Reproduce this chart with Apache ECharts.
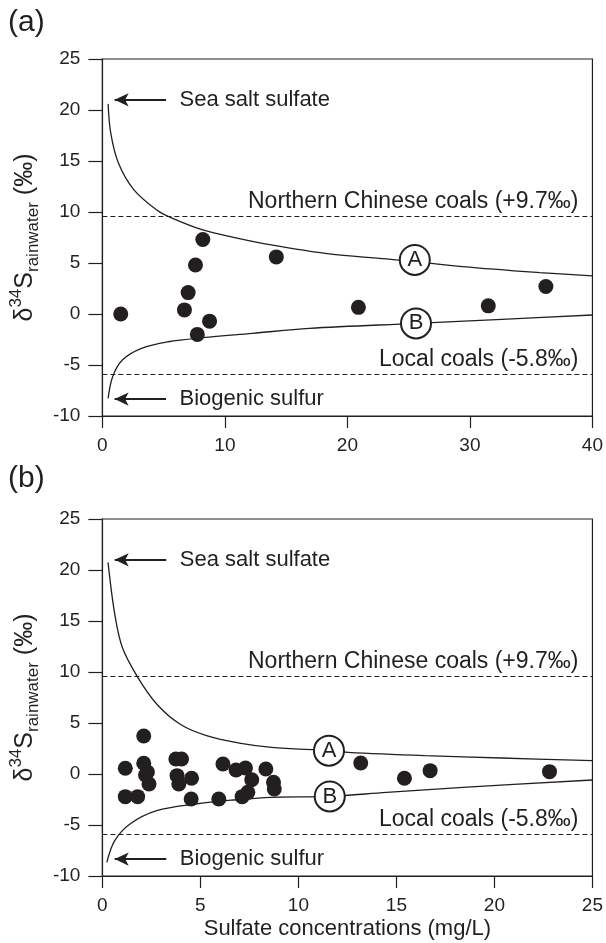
<!DOCTYPE html>
<html>
<head>
<meta charset="utf-8">
<script src="https://cdn.jsdelivr.net/npm/echarts@6/dist/echarts.min.js"></script>
<style>
  html, body { margin: 0; padding: 0; background: #fff; }
  #main { width: 606px; height: 943px; }
</style>
</head>
<body>
<div id="main"></div>
<script>
// (a) 数据点：硫酸盐浓度 (mg/L), δ34S (‰)
var ptsA = [
    [1.5, 0.0], [6.7, 0.4], [7.0, 2.1], [7.6, 4.8], [8.2, 7.3], [7.75, -2.0],
    [8.75, -0.7], [14.2, 5.6], [20.9, 0.65], [31.5, 0.8], [36.2, 2.7]
];
// (b) 数据点
var ptsB = [
    [1.17, 0.56], [1.17, -2.22], [1.8, -2.22], [2.11, 3.73], [2.11, 1.05],
    [2.3, 0.2], [2.2, -0.1], [2.38, -0.98], [3.75, 1.47], [4.04, 1.47],
    [3.81, -0.16], [3.9, -0.98], [4.55, -0.42], [4.53, -2.45], [5.94, -2.45],
    [6.15, 0.98], [6.82, 0.39], [7.3, 0.59], [7.62, -0.56], [7.13, -2.22],
    [7.42, -1.8], [8.34, 0.49], [8.73, -0.82], [8.77, -1.47], [13.18, 1.08],
    [15.41, -0.42], [16.72, 0.33], [22.81, 0.23]
];
// 混合曲线 A / B
var curveA1 = [
    [0.47, 20.6], [0.69, 17.7], [1.31, 14.8], [2.56, 12.2], [4.44, 10.2], [5.69, 9.4],
    [8.19, 8.24], [10.7, 7.52], [13.8, 6.77], [18.5, 5.89], [23.2, 5.4], [29.4, 4.65],
    [35.7, 4.06], [40, 3.73]
];
var curveB1 = [
    [0.47, -8.28], [0.84, -6.15], [1.63, -4.51], [3.19, -3.37], [5.38, -2.72],
    [8.19, -2.32], [12.25, -1.9], [16.9, -1.41], [25.6, -0.92], [32.6, -0.52], [40, -0.1]
];
var curveA2 = [
    [0.29, 20.75], [0.63, 15.7], [1.02, 12.4], [1.8, 9.5], [2.77, 6.86], [3.95, 4.9],
    [5.31, 3.76], [7.07, 3.0], [8.63, 2.61], [11.6, 2.29], [12.54, 2.12], [16.45, 1.8],
    [20.35, 1.57], [25, 1.31]
];
var curveB2 = [
    [0.23, -8.66], [0.63, -6.54], [1.41, -4.9], [2.77, -3.6], [4.73, -2.94],
    [6.68, -2.55], [8.63, -2.29], [11.6, -2.2], [14.5, -1.8], [18.4, -1.31], [25, -0.59]
];
var northCoal = 9.6, localCoal = -5.9;
var xTicksA = [0, 40, 10], xTicksB = [0, 25, 5], yTicks = [-10, 25, 5];

var ink = '#231f20';
var font = 'Liberation Sans';

var myChart = echarts.init(document.getElementById('main'));

function xAxisOf(idx, t, withName) {
    return {
        type: 'value', gridIndex: idx, min: t[0], max: t[1], interval: t[2],
        splitLine: {show: false},
        axisLine: {onZero: false, lineStyle: {color: ink, width: 1.2}},
        axisTick: {length: 12, lineStyle: {color: ink, width: 1.2}},
        axisLabel: {color: ink, fontSize: 19, fontFamily: font, margin: 20},
        name: withName ? 'Sulfate concentrations (mg/L)' : '',
        nameLocation: 'middle', nameGap: 42,
        nameTextStyle: {color: ink, fontSize: 22, fontFamily: font}
    };
}
function yAxisOf(idx) {
    return {
        type: 'value', gridIndex: idx, min: yTicks[0], max: yTicks[1], interval: yTicks[2],
        splitLine: {show: false},
        axisLine: {onZero: false, lineStyle: {color: ink, width: 1.2}},
        axisTick: {length: 14, lineStyle: {color: ink, width: 1.2}},
        axisLabel: {color: ink, fontSize: 19, fontFamily: font, margin: 22},
        name: '{m|δ}{sup|34}{m|S}{sub|rainwater}{m| (‰)}',
        nameLocation: 'middle', nameGap: 40,
        nameTextStyle: {
            color: ink, fontFamily: font,
            rich: {
                m: {fontSize: 25, fontFamily: font, color: ink, lineHeight: 34},
                sup: {fontSize: 17, fontFamily: font, color: ink, verticalAlign: 'top', lineHeight: 34},
                sub: {fontSize: 17, fontFamily: font, color: ink, verticalAlign: 'bottom', lineHeight: 34}
            }
        }
    };
}

// 每个子图的系列
function panelSeries(idx, pts, ca, cb, textX, arrowX, labA, labB) {
    var x0 = arrowX[0], x1 = arrowX[1];
    return [
        {
            type: 'line', xAxisIndex: idx, yAxisIndex: idx, data: ca,
            showSymbol: false, smooth: 0.35, silent: true,
            lineStyle: {color: ink, width: 1.3},
            markLine: {
                silent: true, symbol: 'none',
                lineStyle: {color: ink, width: 1.2, type: [5, 3]},
                label: {color: ink, fontSize: 23, fontFamily: font, position: 'insideEndTop', distance: [14, 3]},
                data: [
                    {yAxis: northCoal, label: {formatter: 'Northern Chinese coals (+9.7‰)'}},
                    {yAxis: localCoal, label: {formatter: 'Local coals (-5.8‰)'}}
                ]
            }
        },
        {
            type: 'line', xAxisIndex: idx, yAxisIndex: idx, data: cb,
            showSymbol: false, smooth: 0.35, silent: true,
            lineStyle: {color: ink, width: 1.3},
            markLine: {
                silent: true, symbol: ['arrow', 'none'], symbolSize: [10, 14],
                lineStyle: {color: ink, width: 1.8, type: 'solid'},
                label: {show: false},
                data: [
                    [{coord: [x0, 21.0]}, {coord: [x1, 21.0]}],
                    [{coord: [x0, -8.34]}, {coord: [x1, -8.34]}]
                ]
            }
        },
        {
            type: 'scatter', xAxisIndex: idx, yAxisIndex: idx, data: pts,
            symbolSize: 15, itemStyle: {color: ink, opacity: 1}, z: 4
        },
        {
            type: 'scatter', xAxisIndex: idx, yAxisIndex: idx,
            data: [
                {value: labA, name: 'A'},
                {value: labB, name: 'B'}
            ],
            symbolSize: 30, z: 5,
            itemStyle: {color: '#fff', borderColor: ink, borderWidth: 2, opacity: 1},
            label: {show: true, position: 'inside', formatter: '{b}', color: ink, fontSize: 22, fontFamily: font}
        },
        {
            type: 'scatter', xAxisIndex: idx, yAxisIndex: idx, symbolSize: 0, silent: true,
            itemStyle: {opacity: 1},
            data: [
                {value: [textX, 21.0], name: 'Sea salt sulfate'},
                {value: [textX, -8.34], name: 'Biogenic sulfur'}
            ],
            label: {show: true, position: 'right', distance: 0, formatter: '{b}', color: ink, fontSize: 22, fontFamily: font}
        }
    ];
}

myChart.setOption({
    backgroundColor: '#fff',
    animation: false,
    textStyle: {fontFamily: font},
    grid: [
        {left: 100, top: 59, width: 497, height: 357, show: true, borderColor: ink, borderWidth: 1.2},
        {left: 100, top: 519, width: 497, height: 357, show: true, borderColor: ink, borderWidth: 1.2}
    ],
    xAxis: [xAxisOf(0, xTicksA, false), xAxisOf(1, xTicksB, true)],
    yAxis: [yAxisOf(0), yAxisOf(1)],
    graphic: [
        {type: 'text', left: 8, top: 8, style: {text: '(a)', fontSize: 30, fontFamily: font, fill: ink}},
        {type: 'text', left: 8, top: 464, style: {text: '(b)', fontSize: 30, fontFamily: font, fill: ink}}
    ],
    series: [].concat(
        panelSeries(0, ptsA, curveA1, curveB1, 6.3, [1.0, 5.2], [25.5, 5.3], [25.6, -0.92]),
        panelSeries(1, ptsB, curveA2, curveB2, 3.95, [0.63, 3.26], [11.56, 2.29], [11.6, -2.2])
    )
});
</script>
</body>
</html>
